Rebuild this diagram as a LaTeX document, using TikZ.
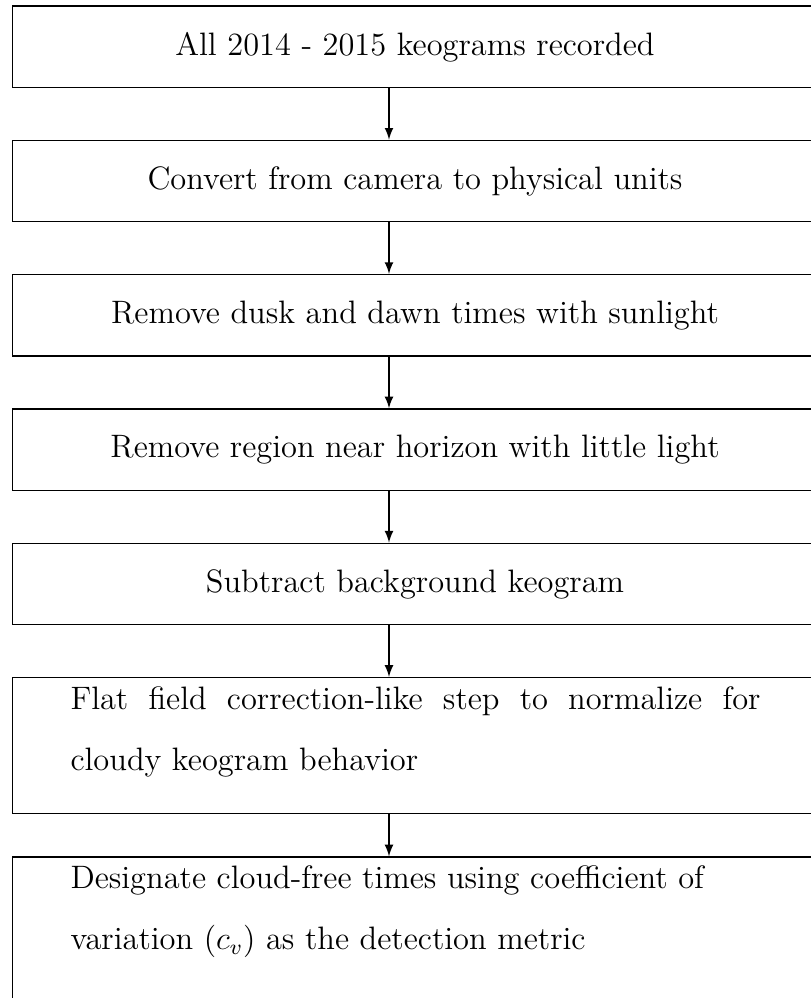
\documentclass[tikz,border=0pt]{standalone}
\usetikzlibrary{positioning}

\tikzset{
  stepbox/.style={draw, rectangle, inner sep=0pt, line width=0.5pt,
    font=\fontsize{12}{22.9}\selectfont,
    minimum width=805*0.37pt, minimum height=81.5*0.37pt},
  steptext/.style={anchor=base west, inner sep=0pt, text width=690*0.37pt,
    align=justify, font=\fontsize{12}{22.9}\selectfont},
  flowarrow/.style={-latex, line width=0.5pt}
}

\begin{document}
\begin{tikzpicture}[x=0.37pt, y=-0.37pt]
    \clip (0,0) rectangle (811,998);
    \coordinate (ax) at (389,0);

    \node[stepbox] (b1) at (415,46.75) {All 2014 - 2015 keograms recorded};
    \node[stepbox] (b2) at (415,181.05) {Convert from camera to physical units};
    \node[stepbox] (b3) at (415,315.35) {Remove dusk and dawn times with sunlight};
    \node[stepbox] (b4) at (415,449.65) {Remove region near horizon with little light};
    \node[stepbox] (b5) at (415,583.95) {Subtract background keogram};
    \node[stepbox, minimum height=135.8*0.37pt] (b6) at (415,745.4) {};
    % last box runs off the bottom edge
    \node[stepbox, minimum height=160*0.37pt] (b7) at (415,937) {};

    \node[steptext] (t6) at (70,709)
      {Flat field correction-like step to normalize for\linebreak cloudy keogram behavior};
    \node[steptext] (t7) at (70,888)
      {Designate cloud-free times using coefficient of\\ variation ($c_v$) as the detection metric};

    \foreach \a/\b in {b1/b2, b2/b3, b3/b4, b4/b5, b5/b6, b6/b7}
      \draw[flowarrow] (\a.south -| ax) -- (\b.north -| ax);
\end{tikzpicture}
\end{document}
